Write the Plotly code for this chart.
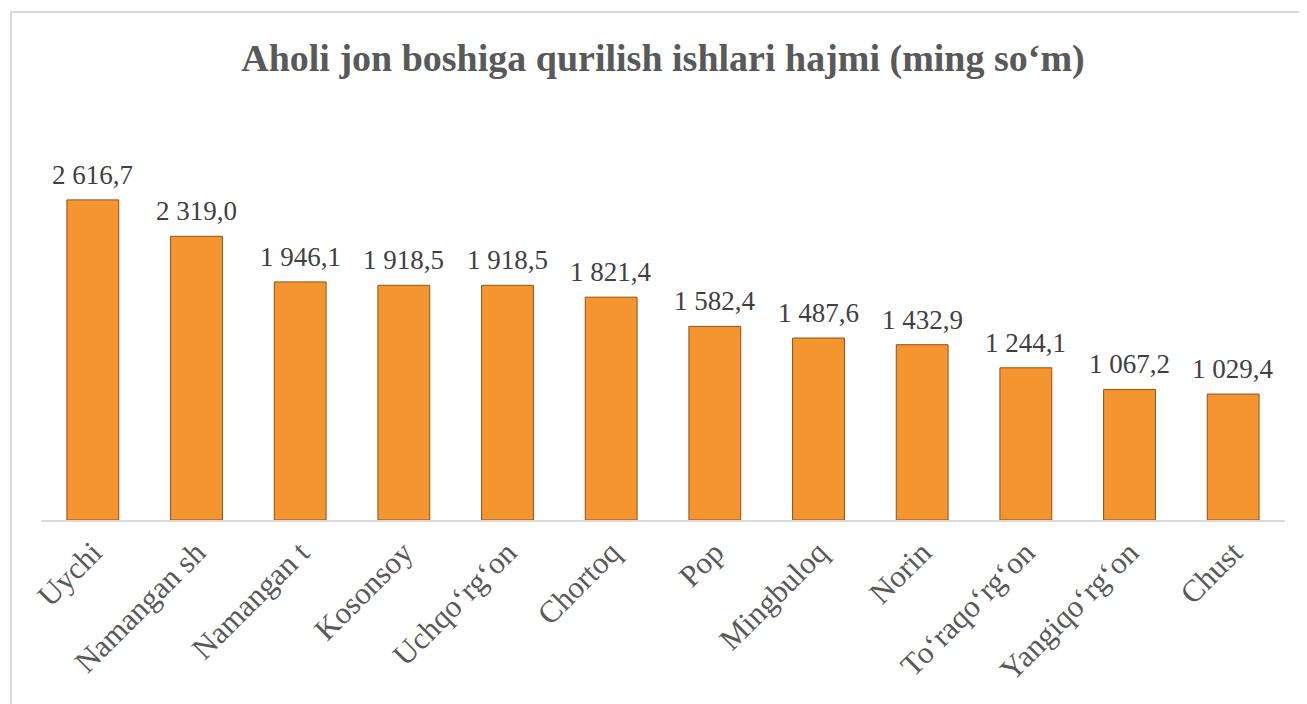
import plotly.graph_objects as go

# Data
districts = ["Uychi", "Namangan sh", "Namangan t", "Kosonsoy", "Uchqo‘rg‘on",
             "Chortoq", "Pop", "Mingbuloq", "Norin", "To‘raqo‘rg‘on",
             "Yangiqo‘rg‘on", "Chust"]
values = [2616.7, 2319.0, 1946.1, 1918.5, 1918.5, 1821.4,
          1582.4, 1487.6, 1432.9, 1244.1, 1067.2, 1029.4]

title_text = "Aholi jon boshiga qurilish ishlari hajmi (ming so‘m)"
serif = "Liberation Serif"

W, H = 1299, 696  # page adds an 8px body margin

fig = go.Figure(go.Bar(
    x=districts,
    y=values,
    marker=dict(color="#F59530", line=dict(color="#8E5218", width=1)),
    hoverinfo="skip",
))

# value labels sitting a little above each bar
for name, val in zip(districts, values):
    label = f"{val:,.1f}".replace(",", " ").replace(".", ",")
    fig.add_annotation(
        x=name, y=val, text=label, showarrow=False,
        yanchor="bottom", yshift=8,
        font=dict(family=serif, size=27, color="#404040"),
    )

fig.update_layout(
    width=W,
    height=H,
    paper_bgcolor="white",
    plot_bgcolor="white",
    margin=dict(l=33, r=22, t=145, b=184),
    bargap=0.5,
    showlegend=False,
    title=dict(
        text="<b>" + title_text + "</b>",
        x=0.5, xref="paper", xanchor="center",
        y=1 - 50 / H, yref="container", yanchor="middle",
        font=dict(family=serif, size=38, color="#595959"),
    ),
    xaxis=dict(
        tickangle=-45,
        tickfont=dict(family=serif, size=31, color="#595959"),
        showline=True, linecolor="#D9D9D9", linewidth=2,
        showgrid=False, ticks="", ticklen=0,
    ),
    yaxis=dict(range=[0, 3000], visible=False, showgrid=False),
    shapes=[dict(
        type="rect", xref="paper", yref="paper",
        x0=-0.0241, x1=1.0169, y0=-0.6, y1=1.384,
        line=dict(color="#D9D9D9", width=2), fillcolor="rgba(0,0,0,0)",
        layer="below",
    )],
)

fig.write_html("out.html")
